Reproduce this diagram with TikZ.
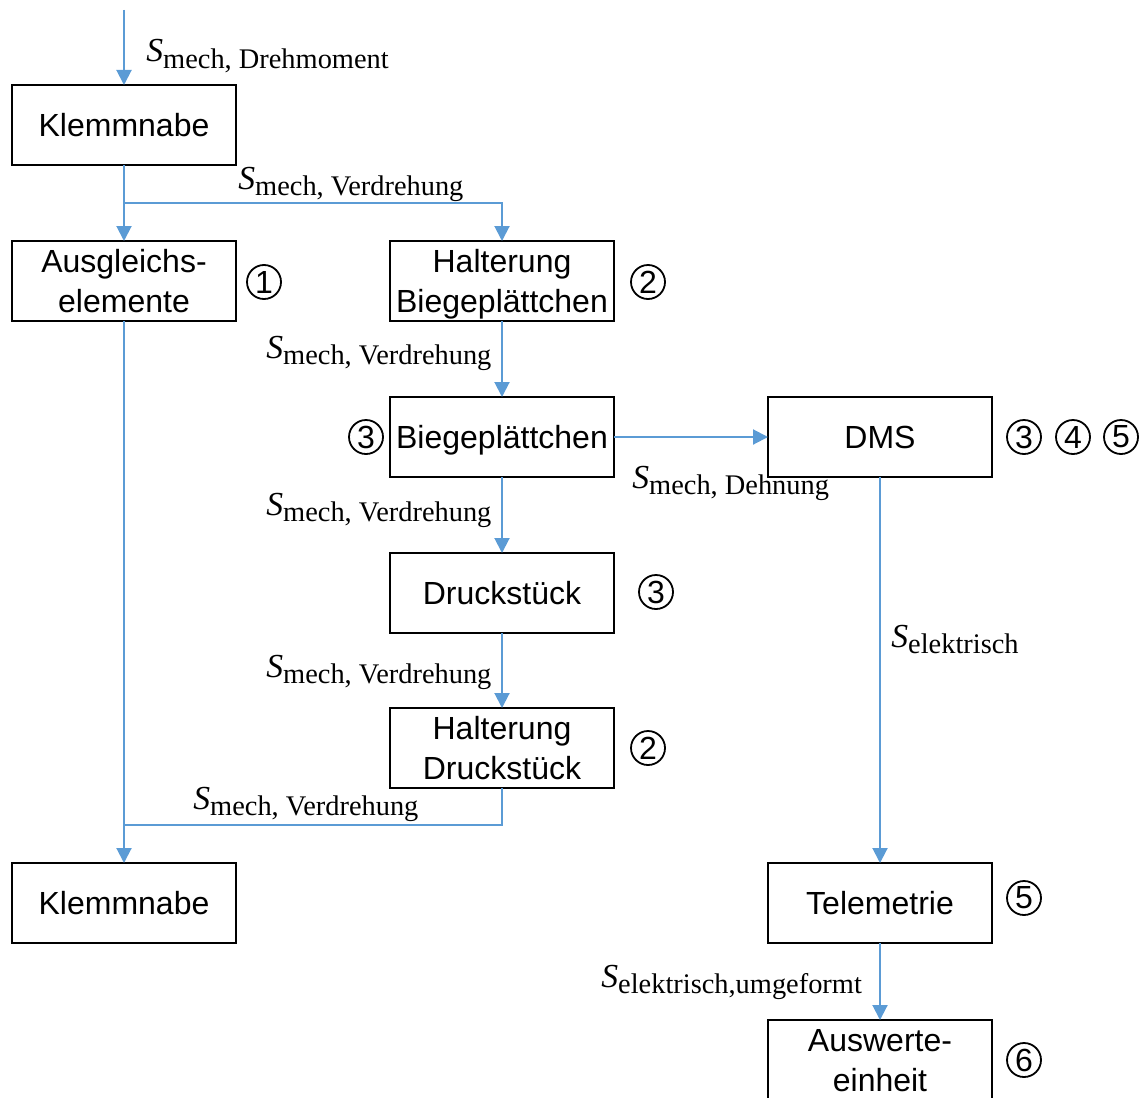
\documentclass[tikz,border=0pt]{standalone}
\usepackage{fontspec}
\setmainfont{Liberation Sans}
\newfontfamily\lblfont{Liberation Serif}
\usetikzlibrary{arrows.meta}
\definecolor{linkblue}{RGB}{91,155,213}
% signal label: italic S with an upright subscript
\newcommand{\sig}[1]{{\lblfont\fontsize{16.8}{18}\selectfont\itshape S}\raisebox{-3pt}{\lblfont\fontsize{14.2}{15}\selectfont #1}}
\tikzset{
  block/.style={draw, line width=1pt, minimum width=112pt, minimum height=40pt,
    inner sep=0pt, outer sep=0pt, align=center, text depth=0pt,
    font=\fontsize{16}{20}\selectfont},
  flow/.style={draw=linkblue, line width=1pt, -{Triangle[length=7.5pt,width=7.5pt]}},
  flowline/.style={draw=linkblue, line width=1pt},
  num/.style={circle, draw, line width=0.9pt, minimum size=17pt, inner sep=0pt,
    font=\fontsize{16}{16}\selectfont},
  lbl/.style={inner sep=0pt, anchor=base west}
}
\begin{document}
\begin{tikzpicture}[x=0.5pt, y=-0.5pt]
\useasboundingbox (0,0) rectangle (1144,1097);
\clip (0,0) rectangle (1144,1097);

% blocks
\node[block] (k1)  at (124,125)  {Klemmnabe};
\node[block] (ag)  at (124,281)  {Ausgleichs-\\elemente};
\node[block] (hb)  at (502,281)  {Halterung\\Biegeplättchen};
\node[block] (bp)  at (502,437)  {Biegeplättchen};
\node[block] (dms) at (880,437)  {DMS};
\node[block] (ds)  at (502,593)  {Druckstück};
\node[block] (hd)  at (502,748)  {Halterung\\Druckstück};
\node[block] (k2)  at (124,903)  {Klemmnabe};
\node[block] (tel) at (880,903)  {Telemetrie};
\node[block] (aw)  at (880,1060) {Auswerte-\\einheit};

% component numbers
\node[num] (n1)  at (264,282)  {1};
\node[num] (n2a) at (648,282)  {2};
\node[num] (n3a) at (366,437)  {3};
\node[num] (n3b) at (1024,437) {3};
\node[num] (n4)  at (1073,437) {4};
\node[num] (n5a) at (1121,437) {5};
\node[num] (n3c) at (656,592)  {3};
\node[num] (n2b) at (648,748)  {2};
\node[num] (n5b) at (1024,898) {5};
\node[num] (n6)  at (1024,1060) {6};

% routing points
\coordinate (in)    at (124,10);
\coordinate (split) at (124,203);
\coordinate (join)  at (124,825);

% connectors
\draw[flow] (in) -- (k1);
\draw[flow] (k1) -- (ag);
\draw[flow] (k1.south) -- (split) -| (hb.north);
\draw[flow] (hb) -- (bp);
\draw[flow] (bp) -- (dms);
\draw[flow] (bp) -- (ds);
\draw[flow] (ds) -- (hd);
\draw[flowline] (hd.south) |- (join);
\draw[flow] (ag) -- (k2);
\draw[flow] (dms) -- (tel);
\draw[flow] (tel) -- (aw);

% signal labels
\node[lbl] (s1) at (146,62)  {\sig{mech, Drehmoment}};
\node[lbl] (s2) at (238,189) {\sig{mech, Verdrehung}};
\node[lbl] (s3) at (266,358) {\sig{mech, Verdrehung}};
\node[lbl] (s4) at (632,488) {\sig{mech, Dehnung}};
\node[lbl] (s5) at (266,515) {\sig{mech, Verdrehung}};
\node[lbl] (s6) at (266,677) {\sig{mech, Verdrehung}};
\node[lbl] (s7) at (193,809) {\sig{mech, Verdrehung}};
\node[lbl] (s8) at (891,647) {\sig{elektrisch}};
\node[lbl] (s9) at (601,987) {\sig{elektrisch,umgeformt}};
\end{tikzpicture}
\end{document}
